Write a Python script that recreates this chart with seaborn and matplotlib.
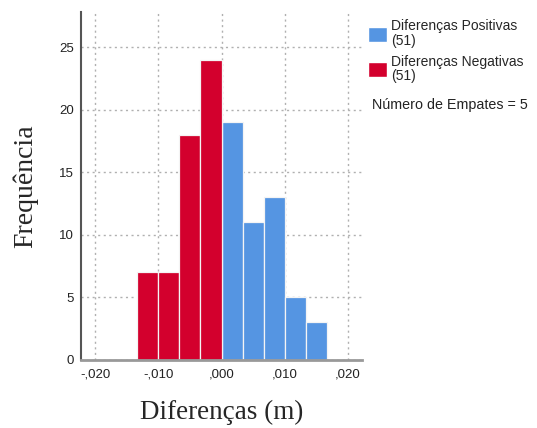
import numpy as np
import pandas as pd
import matplotlib
matplotlib.use("Agg")
import matplotlib.pyplot as plt
import seaborn as sns
from matplotlib.patches import Patch

# bin centres (m) and counts
neg_centers = [-0.011667, -0.008333, -0.005, -0.001667]
neg_counts = [7, 7, 18, 24]
pos_centers = [0.001667, 0.005, 0.008333, 0.011667, 0.015]
pos_counts = [19, 11, 13, 5, 3]
bin_edges = [-0.013333, -0.01, -0.006667, -0.003333, 0.0,
             0.003333, 0.006667, 0.01, 0.013333, 0.016667]
x_ticks = [-0.02, -0.01, 0.0, 0.01, 0.02]
x_ticklabels = ["-,020", "-,010", ",000", ",010", ",020"]
y_ticks = [0, 5, 10, 15, 20, 25]
series_labels = ["Diferenças Positivas\n(51)", "Diferenças Negativas\n(51)"]
n_ties = 5

blue = "#5595E2"
red = "#D3002D"

df = pd.DataFrame({
    "dif": neg_centers + pos_centers,
    "n": neg_counts + pos_counts,
    "sinal": ["neg"] * len(neg_centers) + ["pos"] * len(pos_centers),
})

sns.set_style("white")
plt.rcParams["font.family"] = ["Liberation Sans", "DejaVu Sans"]

fig = plt.figure(figsize=(5.37, 4.28), dpi=100)
ax = fig.add_axes([0.151, 0.159, 0.523, 0.813])

sns.histplot(data=df, x="dif", weights="n", hue="sinal", bins=bin_edges,
             palette={"neg": red, "pos": blue}, alpha=1, multiple="layer",
             edgecolor="#f4f4f4", linewidth=0.9, legend=False, ax=ax)

ax.set_xlim(-0.0222, 0.0222)
ax.set_ylim(0, 27.8)
ax.set_xticks(x_ticks)
ax.set_xticklabels(x_ticklabels)
ax.set_yticks(y_ticks)
ax.tick_params(labelsize=9.5, colors="#222222", length=0)
ax.tick_params(axis="x", pad=6)
ax.tick_params(axis="y", pad=5)
ax.grid(True, linestyle=(0, (1.5, 2.5)), color="#b0b0b0", linewidth=1)
ax.set_axisbelow(True)

for s in ["top", "right"]:
    ax.spines[s].set_visible(False)
ax.spines["left"].set_color("#555555")
ax.spines["left"].set_linewidth(1.5)
ax.spines["bottom"].set_color("#999999")
ax.spines["bottom"].set_linewidth(2)

ax.set_xlabel("Diferenças (m)", family=["Liberation Serif"], fontsize=19.5, labelpad=14)
ax.set_ylabel("Frequência", family=["Liberation Serif"], fontsize=20, labelpad=15)

handles = [Patch(facecolor=blue), Patch(facecolor=red)]
leg = fig.legend(handles, series_labels, loc="upper left", bbox_to_anchor=(0.685, 0.955),
                 frameon=False, fontsize=10, handlelength=1.4, handleheight=1.3,
                 handletextpad=0.3, labelspacing=0.5, borderpad=0, borderaxespad=0)
for t in leg.get_texts():
    t.set_linespacing(1.05)
fig.text(0.693, 0.755, f"Número de Empates = {n_ties}", fontsize=10.3,
         color="#222222", va="center")

fig.savefig("out.png", dpi=100)
